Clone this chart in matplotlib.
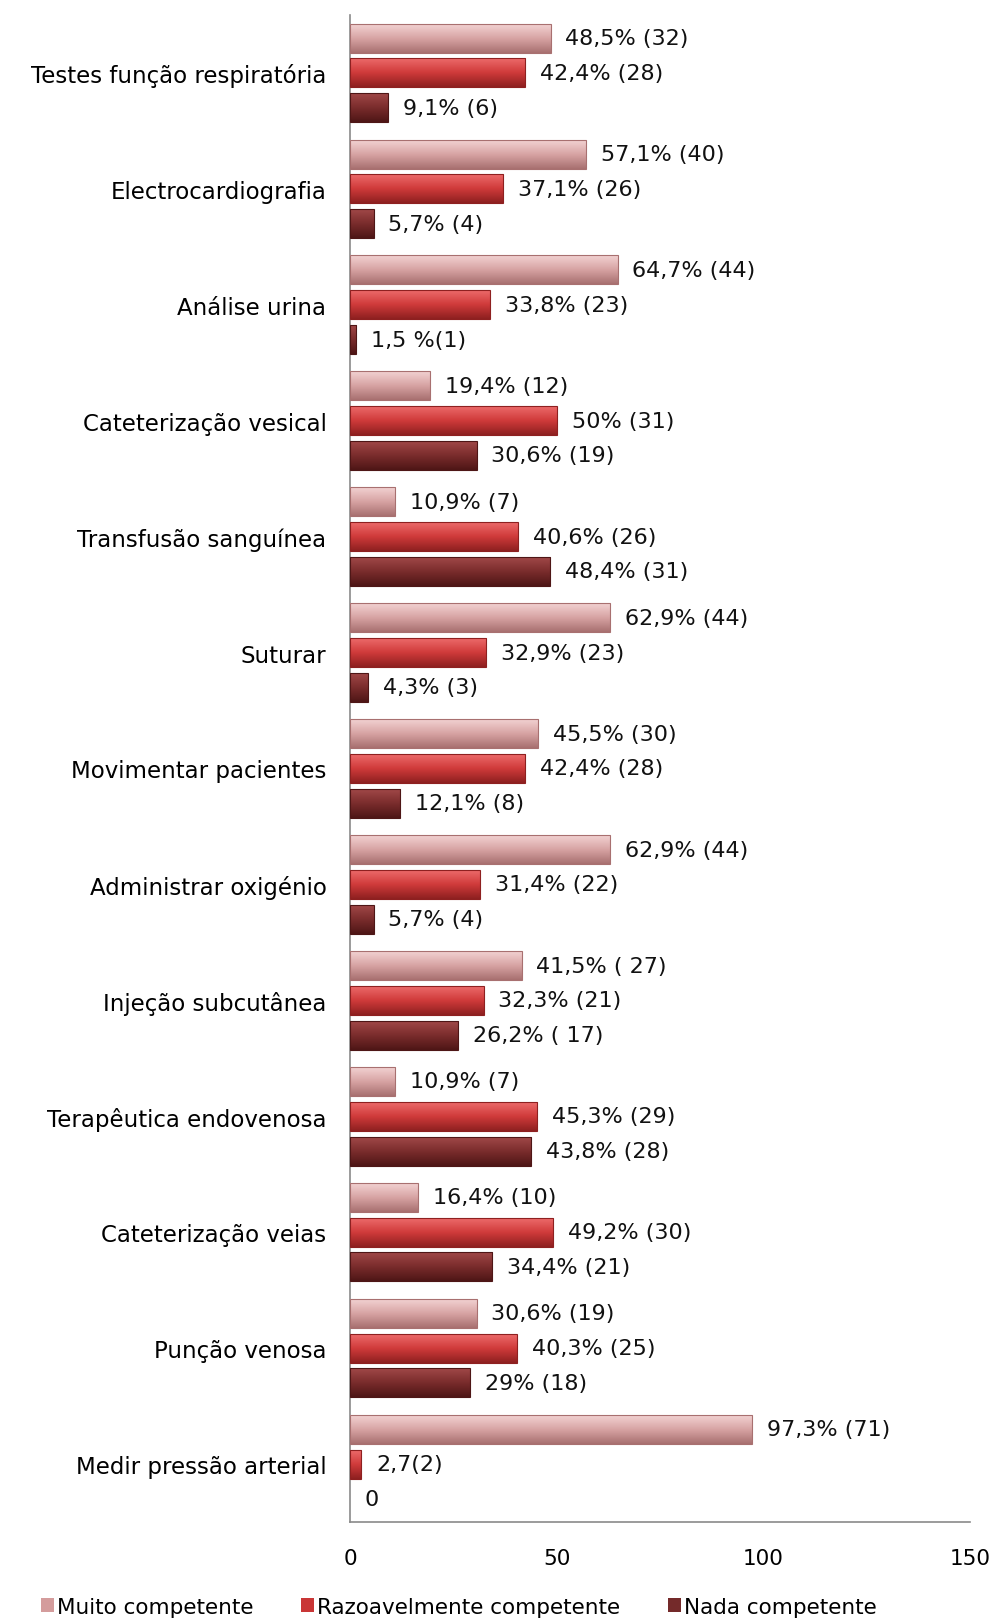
import numpy as np
import matplotlib.pyplot as plt
from matplotlib.colors import LinearSegmentedColormap

# categories listed bottom -> top
categories = [
    'Medir pressão arterial', 'Punção venosa', 'Cateterização veias',
    'Terapêutica endovenosa', 'Injeção subcutânea', 'Administrar oxigénio',
    'Movimentar pacientes', 'Suturar', 'Transfusão sanguínea',
    'Cateterização vesical', 'Análise urina', 'Electrocardiografia',
    'Testes função respiratória',
]
muito = [97.3, 30.6, 16.4, 10.9, 41.5, 62.9, 45.5, 62.9, 10.9, 19.4, 64.7, 57.1, 48.5]
razoavel = [2.7, 40.3, 49.2, 45.3, 32.3, 31.4, 42.4, 32.9, 40.6, 50.0, 33.8, 37.1, 42.4]
nada = [0.0, 29.0, 34.4, 43.8, 26.2, 5.7, 12.1, 4.3, 48.4, 30.6, 1.5, 5.7, 9.1]

muito_lbl = ['97,3% (71)', '30,6% (19)', '16,4% (10)', '10,9% (7)', '41,5% ( 27)',
             '62,9% (44)', '45,5% (30)', '62,9% (44)', '10,9% (7)', '19,4% (12)',
             '64,7% (44)', '57,1% (40)', '48,5% (32)']
razoavel_lbl = ['2,7(2)', '40,3% (25)', '49,2% (30)', '45,3% (29)', '32,3% (21)',
                '31,4% (22)', '42,4% (28)', '32,9% (23)', '40,6% (26)', '50% (31)',
                '33,8% (23)', '37,1% (26)', '42,4% (28)']
nada_lbl = ['0', '29% (18)', '34,4% (21)', '43,8% (28)', '26,2% ( 17)',
            '5,7% (4)', '12,1% (8)', '4,3% (3)', '48,4% (31)', '30,6% (19)',
            '1,5 %(1)', '5,7% (4)', '9,1% (6)']

series_names = ['Muito competente', 'Razoavelmente competente', 'Nada competente']
# (top, mid, bottom) of gradient for each series
grads = [
    ('#f2d2d2', '#d7a3a3', '#a87070'),
    ('#ec6a6a', '#cf3a3a', '#8e2020'),
    ('#a04848', '#7a2c2c', '#4e1616'),
]
base_colors = ['#d49c9c', '#c93636', '#742a2a']

plt.rcParams['font.family'] = ['DejaVu Sans']

fig = plt.figure(figsize=(9.93, 16.24), dpi=100)
ax = fig.add_axes([0.3525, 0.0622, 0.6245, 0.928])

y = np.arange(len(categories))
step = 0.30
height = 0.25
offsets = [step, 0.0, -step]

all_vals = [muito, razoavel, nada]
all_lbls = [muito_lbl, razoavel_lbl, nada_lbl]

for vals, lbls, off, g, base, name in zip(all_vals, all_lbls, offsets, grads,
                                          base_colors, series_names):
    bars = ax.barh(y + off, vals, height=height, color=base, edgecolor='none',
                   label=name, zorder=2)
    cmap = LinearSegmentedColormap.from_list('g', [g[2], g[1], g[0]])
    for b in bars:
        x0, y0 = b.get_x(), b.get_y()
        w, h = b.get_width(), b.get_height()
        if w <= 0:
            continue
        grad = np.linspace(0, 1, 64).reshape(-1, 1)
        ax.imshow(grad, extent=[x0, x0 + w, y0, y0 + h], origin='lower',
                  aspect='auto', cmap=cmap, zorder=3, interpolation='bilinear')
        ax.add_patch(plt.Rectangle((x0, y0), w, h, fill=False,
                                   edgecolor=g[2], lw=0.8, zorder=4))
    for yi, v, t in zip(y + off, vals, lbls):
        ax.text(v + 3.6, yi, t, va='center', ha='left', fontsize=16,
                color='#111111', zorder=5)

ax.set_xlim(0, 150)
ax.set_ylim(-0.5, len(categories) - 0.5)
ax.set_xticks([0, 50, 100, 150])
ax.set_yticks(y)
ax.set_yticklabels(categories, fontsize=16.5)
ax.tick_params(axis='x', length=0, pad=19, labelsize=15.5)
ax.tick_params(axis='y', length=0, pad=17)

for s in ['top', 'right']:
    ax.spines[s].set_visible(False)
for s in ['left', 'bottom']:
    ax.spines[s].set_color('#8a8a8a')
    ax.spines[s].set_linewidth(1.2)

handles, labels = ax.get_legend_handles_labels()
fig.legend(handles, labels, loc='center', bbox_to_anchor=(0.462, 0.010),
           ncol=3, frameon=False, fontsize=15.5, handlelength=0.6,
           handleheight=0.6, handletextpad=0.15, columnspacing=2.2)

fig.savefig('out.png', dpi=100, facecolor='white')
